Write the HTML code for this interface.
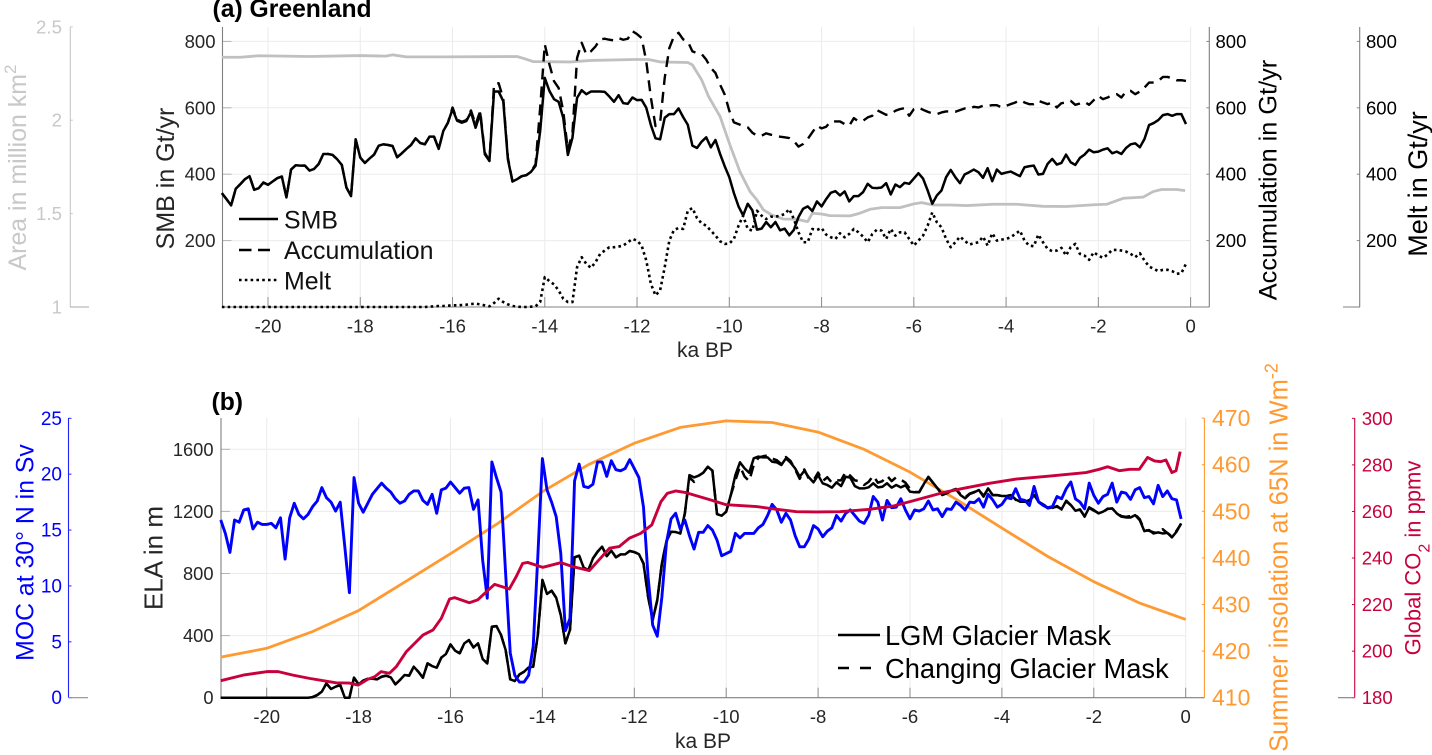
<!DOCTYPE html>
<html lang="en">
<head>
<meta charset="utf-8">
<title>Greenland SMB and ELA</title>
<style>
html,body{margin:0;padding:0;background:#fff;}
svg{display:block;font-family:"Liberation Sans",Arial,sans-serif;}
.series{fill:none;stroke-linejoin:round;stroke-linecap:butt;}
</style>
</head>
<body>
<svg id="chart" xmlns="http://www.w3.org/2000/svg" width="1432" height="755" viewBox="0 0 1432 755">
  <rect x="0" y="0" width="1432" height="755" fill="#ffffff"/>

  <g id="grid-a"></g>
  <g id="grid-b"></g>
  <g id="axes-a">
    <line x1="222.5" y1="27" x2="222.5" y2="307" stroke="#808080" stroke-width="1.1"/>
    <line x1="222" y1="307" x2="1209.5" y2="307" stroke="#808080" stroke-width="1.1"/>
    <line x1="1209.3" y1="27" x2="1209.3" y2="307" stroke="#808080" stroke-width="1.1"/>
    <line x1="1359.7" y1="27" x2="1359.7" y2="307" stroke="#808080" stroke-width="1.1"/>
    <line x1="1343" y1="307" x2="1360" y2="307" stroke="#808080" stroke-width="1.1"/>
    <line x1="70.3" y1="27" x2="70.3" y2="307" stroke="#c8c8c8" stroke-width="1.1"/>
    <line x1="70" y1="307" x2="89" y2="307" stroke="#a8a8a8" stroke-width="1.1"/>
  </g>
  <g id="axes-b">
    <line x1="221" y1="418" x2="221" y2="697.7" stroke="#808080" stroke-width="1.1"/>
    <line x1="221" y1="697.7" x2="1204.5" y2="697.7" stroke="#808080" stroke-width="1.1"/>
    <line x1="1204.4" y1="418" x2="1204.4" y2="697.7" stroke="#ff9933" stroke-width="1.1"/>
    <line x1="1354.7" y1="418" x2="1354.7" y2="697.7" stroke="#c8003c" stroke-width="1.1"/>
    <line x1="1338" y1="697.7" x2="1355" y2="697.7" stroke="#808080" stroke-width="1.1"/>
    <line x1="68.5" y1="418" x2="68.5" y2="697.7" stroke="#2222ff" stroke-width="1.1"/>
    <line x1="68.5" y1="697.7" x2="88" y2="697.7" stroke="#909090" stroke-width="1.1"/>
  </g>
  <g id="labels-a"></g>
  <g id="labels-b"></g>

  <g>
    <path id="area-line" class="series" stroke="#c0c0c0" stroke-width="2.8"/>
    <path id="accum-line" class="series" stroke="#000" stroke-width="2.4" stroke-dasharray="11 7"/>
    <path id="melt-line" class="series" stroke="#000" stroke-width="2.6" stroke-dasharray="2.6 3.2"/>
    <path id="smb-line" class="series" stroke="#000" stroke-width="2.5"/>
  </g>
  <g>
    <path id="insolation-line" class="series" stroke="#ff9a33" stroke-width="2.8"/>
    <path id="ela-changing-line" class="series" stroke="#000" stroke-width="2.5" stroke-dasharray="11 7"/>
    <path id="ela-lgm-line" class="series" stroke="#000" stroke-width="2.5"/>
    <path id="moc-line" class="series" stroke="#0000ff" stroke-width="2.9"/>
    <path id="co2-line" class="series" stroke="#c8003c" stroke-width="2.9"/>
  </g>

  <text x="212.5" y="17" font-size="24.7" font-weight="bold" fill="#000">(a) Greenland</text>
  <text x="211.5" y="410" font-size="24.7" font-weight="bold" fill="#000">(b)</text>

  <text x="705" y="357" font-size="21" fill="#262626" text-anchor="middle">ka BP</text>
  <text x="703" y="748" font-size="21" fill="#262626" text-anchor="middle">ka BP</text>

  <text transform="translate(26,167.5) rotate(-90)" font-size="24.9" fill="#c8c8c8" text-anchor="middle">Area in million km<tspan font-size="17" dy="-10">2</tspan></text>
  <text transform="translate(174,178.5) rotate(-90)" font-size="25" fill="#262626" text-anchor="middle">SMB in Gt/yr</text>
  <text transform="translate(1276.7,180) rotate(-90)" font-size="25.3" fill="#000" text-anchor="middle">Accumulation in Gt/yr</text>
  <text transform="translate(1427,184) rotate(-90)" font-size="27" fill="#000" text-anchor="middle">Melt in Gt/yr</text>
  <text transform="translate(33.3,552.5) rotate(-90)" font-size="24.8" fill="#0000ff" text-anchor="middle">MOC at 30° N in Sv</text>
  <text transform="translate(162.3,558) rotate(-90)" font-size="26" fill="#262626" text-anchor="middle">ELA in m</text>
  <text transform="translate(1287.3,557.5) rotate(-90)" font-size="25.5" fill="#ff9a33" text-anchor="middle">Summer insolation at 65N in Wm<tspan font-size="18" dy="-10">-2</tspan></text>
  <text transform="translate(1420.7,558) rotate(-90)" font-size="22" fill="#c8003c" text-anchor="middle">Global CO<tspan font-size="16" dy="9">2</tspan><tspan dy="-9"> in ppmv</tspan></text>

  <g>
    <line x1="239" y1="219" x2="278" y2="219" stroke="#000" stroke-width="2.4"/>
    <text x="284" y="228.5" font-size="24.9" fill="#111">SMB</text>
    <line x1="239" y1="250" x2="270" y2="250" stroke="#000" stroke-width="2.4" stroke-dasharray="12.5 6.5"/>
    <text x="284" y="259" font-size="24.9" fill="#111">Accumulation</text>
    <line x1="239" y1="280" x2="278" y2="280" stroke="#000" stroke-width="2.6" stroke-dasharray="2.6 3.2"/>
    <text x="284" y="289.5" font-size="24.9" fill="#111">Melt</text>
  </g>
  <g>
    <line x1="838" y1="635" x2="880" y2="635" stroke="#000" stroke-width="2.4"/>
    <text x="885" y="645" font-size="27.3" fill="#000">LGM Glacier Mask</text>
    <line x1="838" y1="668" x2="871" y2="668" stroke="#000" stroke-width="2.4" stroke-dasharray="11 11"/>
    <text x="885" y="678" font-size="27.3" fill="#000">Changing Glacier Mask</text>
  </g>
</svg>

<script>
// Tick labels
const kaTicks = [-20, -18, -16, -14, -12, -10, -8, -6, -4, -2, 0];
const gtTicks = [200, 400, 600, 800];
const areaTicks = [1, 1.5, 2, 2.5];
const elaTicks = [0, 400, 800, 1200, 1600];
const mocTicks = [0, 5, 10, 15, 20, 25];
const insolationTicks = [410, 420, 430, 440, 450, 460, 470];
const co2Ticks = [180, 200, 220, 240, 260, 280, 300];

// Series sampled every 0.1 ka starting at -21 ka
const seriesStartKa = -21;
const seriesStepKa = 0.1;

const smbValues = [343,325,306,356,370,385,394,353,358,375,368,378,388,393,330,414,427,426,426,411,416,431,461,461,458,445,428,360,334,505,450,434,447,459,486,490,488,485,451,463,476,488,508,494,490,513,513,476,530,555,596,561,555,560,587,540,583,460,440,649,649,620,445,378,385,394,397,407,425,530,690,651,626,618,570,458,510,630,653,641,649,649,649,648,634,618,638,614,612,631,623,624,600,548,508,505,570,581,581,598,572,549,486,479,498,511,481,503,461,424,391,343,303,276,311,291,233,236,256,240,256,231,236,216,232,271,296,303,289,318,303,325,344,349,336,348,318,334,334,346,371,359,358,360,373,339,369,361,374,371,387,403,387,351,311,336,351,391,413,391,373,399,406,414,406,389,418,379,414,401,405,408,401,394,421,424,426,399,401,431,446,429,434,459,436,428,449,459,474,466,468,474,478,463,468,461,479,490,493,481,506,548,554,563,578,581,576,581,581,551];

const accumulationValues = [343,325,306,356,370,385,394,353,358,375,368,378,388,393,330,414,427,426,426,411,416,431,461,461,458,445,428,360,334,505,450,434,447,459,486,490,488,485,451,463,476,488,508,494,490,513,513,476,530,555,601,564,558,563,592,550,590,465,440,671,674,628,450,378,385,394,397,407,430,600,791,731,680,660,590,473,525,750,796,761,770,785,806,808,805,803,810,805,808,831,822,810,740,631,545,555,690,780,815,826,806,800,770,765,762,745,720,705,670,640,591,556,551,545,541,525,516,516,523,519,516,513,511,509,500,483,491,506,526,546,538,543,559,559,559,551,546,569,559,561,571,576,593,586,579,581,591,596,599,576,596,601,594,588,583,581,586,589,589,588,593,598,596,603,601,606,606,608,608,601,606,611,616,623,616,611,611,621,616,611,616,601,614,616,621,609,613,618,609,623,636,626,631,638,641,631,649,651,641,649,661,676,676,681,693,693,689,683,683,681];

const meltValues = [0,0,0,0,0,0,0,0,0,0,0,0,0,0,0,0,0,0,0,0,0,0,0,0,0,0,0,0,0,0,0,0,0,0,0,0,0,0,0,0,0,0,0,0,0,1,2,3,3,4,5,5,6,7,9,10,8,5,2,12,25,15,8,3,1,0,0,1,2,15,90,78,68,50,25,15,15,120,150,130,118,135,160,170,180,180,182,185,195,205,200,185,140,70,35,50,120,200,232,238,235,290,298,268,252,245,230,215,198,190,191,205,245,275,235,230,290,275,265,272,272,275,280,295,265,225,195,195,235,232,238,218,210,205,222,210,220,235,225,212,195,220,233,230,205,235,215,225,225,205,185,200,215,245,285,255,240,205,180,195,212,200,188,192,195,212,185,222,200,203,205,210,220,230,200,185,183,218,195,175,168,170,178,155,180,190,160,155,142,165,155,148,158,172,172,170,167,160,150,162,140,122,115,108,112,112,108,100,102,130];

// Ice area (irregular samples, ka and million km2)
const areaTimes = [-21,-20.6,-20.2,-19.1,-18,-17.45,-17.3,-17,-16.2,-14.6,-14.45,-14.25,-13.45,-13,-12.05,-11.75,-11.5,-10.9,-10.8,-10.6,-10.45,-10.2,-10,-9.77,-9.55,-9.4,-9.26,-9.08,-8.83,-8.54,-8.3,-8.2,-8,-7.82,-7.38,-7.17,-6.95,-6.7,-6.3,-6,-5.83,-5.58,-5.2,-4.85,-4.28,-3.77,-3.2,-2.7,-2.04,-1.82,-1.46,-1.03,-0.81,-0.63,-0.3,-0.12];
const areaValues = [2.337,2.337,2.345,2.341,2.346,2.343,2.35,2.339,2.339,2.341,2.33,2.314,2.312,2.32,2.325,2.325,2.312,2.309,2.296,2.216,2.127,2.02,1.877,1.725,1.618,1.573,1.52,1.493,1.471,1.47,1.457,1.502,1.498,1.489,1.488,1.502,1.523,1.532,1.532,1.552,1.559,1.546,1.546,1.543,1.55,1.55,1.539,1.538,1.548,1.55,1.582,1.588,1.618,1.629,1.629,1.623];

const elaLgmValues = [0,0,0,0,0,0,0,0,0,0,0,0,0,0,0,0,0,0,0,0,4,17,39,92,56,71,82,0,0,129,86,110,122,122,118,135,142,131,86,114,146,142,200,167,129,221,204,193,258,281,343,303,286,350,371,324,350,249,221,457,461,404,307,118,107,150,167,195,200,404,758,668,689,644,532,350,436,904,915,837,822,897,940,973,912,947,904,923,923,945,938,925,865,651,500,629,865,1009,1069,1067,1058,1187,1434,1419,1430,1449,1488,1462,1183,1172,1198,1305,1434,1516,1477,1449,1542,1553,1548,1548,1520,1516,1499,1542,1514,1477,1423,1462,1419,1387,1434,1381,1370,1353,1387,1363,1423,1417,1363,1348,1348,1355,1381,1355,1359,1381,1353,1370,1355,1368,1327,1323,1323,1376,1423,1385,1348,1305,1316,1333,1342,1305,1284,1312,1323,1338,1295,1348,1305,1305,1299,1299,1305,1277,1262,1262,1273,1305,1262,1241,1220,1226,1230,1215,1269,1241,1204,1213,1166,1226,1209,1187,1198,1215,1220,1187,1166,1161,1161,1176,1144,1073,1080,1058,1065,1058,1062,1033,1069,1123];

const elaChangingValues = [0,0,0,0,0,0,0,0,0,0,0,0,0,0,0,0,0,0,0,0,4,17,39,92,56,71,82,0,0,129,86,110,122,122,118,135,142,131,86,114,146,142,200,167,129,221,204,193,258,281,343,303,286,350,371,324,350,249,221,457,461,404,307,118,107,150,167,195,200,404,758,668,689,644,532,350,436,904,915,837,822,897,940,973,912,947,904,923,923,945,938,925,865,651,500,629,865,1009,1069,1067,1058,1187,1420,1390,1430,1449,1488,1462,1183,1172,1198,1305,1400,1490,1425,1395,1500,1545,1555,1560,1540,1530,1505,1550,1525,1470,1410,1470,1410,1400,1450,1395,1420,1385,1400,1400,1455,1430,1400,1395,1370,1390,1430,1385,1395,1430,1395,1420,1405,1385,1345,1325,1325,1376,1420,1385,1350,1310,1320,1335,1345,1310,1290,1315,1325,1340,1300,1345,1305,1305,1299,1299,1305,1275,1258,1265,1270,1300,1262,1245,1225,1222,1235,1212,1265,1240,1208,1210,1170,1222,1205,1190,1195,1218,1218,1190,1170,1165,1170,1180,1150,1080,1075,1065,1060,1085,1060,1040,1075,1120];

const mocValues = [15.9,14.7,13.0,15.9,15.7,16.8,16.9,15.1,15.7,15.5,15.5,15.6,15.2,16.1,12.4,16.1,17.4,16.4,16.0,16.4,17.1,17.6,18.8,17.9,17.5,16.7,17.5,13.5,9.4,19.7,17.4,16.6,17.4,18.2,18.7,19.2,18.75,18.4,17.8,17.4,17.6,18.2,18.5,18.5,17.65,17.3,18.2,16.5,18.6,18.75,19.3,18.8,18.3,18.75,18.8,16.85,17.7,12.3,8.9,21.1,19.7,18.4,11.1,4.0,2.0,1.4,1.4,2.0,4.6,12.6,21.4,18.6,17.5,16.2,12.9,6.0,7.1,19.4,20.9,18.9,18.8,19.1,21.1,21.1,19.8,21.2,20.4,20.3,20.5,21.3,20.5,19.7,17.05,10.8,6.5,5.5,9.0,13.9,16.0,16.5,15.1,15.9,14.5,13.3,14.8,14.8,15.4,15.0,14.1,12.7,12.9,13.1,14.7,14.3,14.7,14.7,14.7,15.2,15.5,16.3,17.3,16.8,15.7,16.5,15.9,14.5,13.5,13.5,14.2,15.4,15.1,14.4,14.9,15.2,16.3,15.8,16.5,16.8,16.3,15.8,15.6,16.3,18.0,17.5,15.9,17.65,17.0,17.05,17.8,16.8,16.0,16.8,16.7,16.9,17.6,16.8,16.9,16.2,16.9,16.85,17.5,17.2,16.8,17.5,17.45,17.8,17.05,18.2,17.7,17.05,17.3,17.9,17.8,18.7,17.75,17.65,17.2,18.9,17.5,17.2,17.0,17.1,18.0,17.8,18.7,19.3,17.8,17.5,16.9,19.2,18.1,17.4,18.0,18.2,19.2,17.5,18.4,18.3,17.75,18.6,18.8,17.9,18.0,17.35,19.0,18.0,18.5,17.8,17.7,16.0];

// Summer insolation: one value per ka from -21 to 0
const insolationTimes = [-21,-20,-19,-18,-17,-16,-15,-14,-13,-12,-11,-10,-9,-8,-7,-6,-5,-4,-3,-2,-1,0];
const insolationValues = [418.7,420.6,424.2,428.7,434.8,440.9,447.2,454.2,460,464.6,468,469.4,469.05,467,463.3,458.4,452.6,446.4,440.3,434.9,430.3,426.8];

// Global CO2 (irregular samples)
const co2Times = [-21,-20.51,-20,-19.75,-19.43,-19.07,-18.49,-18.2,-18.01,-17.8,-17.65,-17.51,-17.33,-17.18,-16.96,-16.6,-16.38,-16.2,-16.02,-15.91,-15.59,-15.41,-15.22,-15.04,-14.72,-14.57,-14.43,-14.32,-13.99,-13.85,-13.6,-13.34,-12.98,-12.76,-12.54,-12.33,-12.11,-11.86,-11.62,-11.42,-11.28,-11.1,-10.88,-10.38,-10,-9.34,-9.01,-8.47,-8.04,-7.53,-6.88,-6.37,-5.93,-5.28,-4.85,-4.27,-3.69,-2.96,-2.17,-1.88,-1.7,-1.44,-1.22,-1.01,-0.83,-0.68,-0.54,-0.43,-0.3,-0.21,-0.12];
const co2Values = [187.3,189.7,191.2,191.2,189.7,188.3,186.4,186.3,185.4,187.9,189,191.2,190.5,193.3,199.8,206.9,209.1,214.1,222.4,223,220.8,222,225.5,228.7,226.7,232,237.7,238.1,236,236.7,238,236.3,234.6,239.4,244.2,244.9,248.5,250.6,254.2,264.2,267.8,268.8,268.1,265.2,262.9,262.1,261.2,259.9,259.8,259.9,260.9,262.3,264.6,268.1,269.9,272.1,273.9,275.2,276.7,278.1,279.2,277.5,278.1,278.1,283.2,281.7,281.4,282.1,276.7,277.5,285.7];

// Axis functions
const xA = t => 268 + (t + 20) * 46.13;
const yGt = v => 307 - v * 0.332;
const yArea = a => 307 - (a - 1) * 186.8;
const xB = t => 266.7 + (t + 20) * 45.95;
const yEla = e => 697.7 - e * 0.15525;
const yMoc = m => 697.7 - m * 11.176;
const yInsolation = v => 697.7 - (v - 410) * 4.66;
const yCo2 = c => 697.7 - (c - 180) * 2.328;

const svgNs = 'http://www.w3.org/2000/svg';

function addLine(parent, name, x1, y1, x2, y2, stroke) {
  const el = document.createElementNS(svgNs, 'line');
  
  
  el.setAttribute('x1', x1);
  el.setAttribute('y1', y1);
  el.setAttribute('x2', x2);
  el.setAttribute('y2', y2);
  el.setAttribute('stroke', stroke);
  el.setAttribute('stroke-width', '1');
  parent.appendChild(el);
}

function addText(parent, name, label, x, y, anchor, size, fill) {
  const el = document.createElementNS(svgNs, 'text');
  
  
  el.setAttribute('x', x);
  el.setAttribute('y', y);
  el.setAttribute('text-anchor', anchor);
  el.setAttribute('font-size', size);
  el.setAttribute('fill', fill);
  el.textContent = label;
  parent.appendChild(el);
}

function setUniformPath(id, values, xFn, yFn) {
  let d = '';
  values.forEach((v, i) => {
    const t = seriesStartKa + i * seriesStepKa;
    d += (i ? 'L' : 'M') + xFn(t).toFixed(2) + ' ' + yFn(v).toFixed(2);
  });
  document.getElementById(id).setAttribute('d', d);
}

function setTimedPath(id, times, values, xFn, yFn) {
  let d = '';
  values.forEach((v, i) => {
    d += (i ? 'L' : 'M') + xFn(times[i]).toFixed(2) + ' ' + yFn(v).toFixed(2);
  });
  document.getElementById(id).setAttribute('d', d);
}

const gridA = document.getElementById('grid-a');
const gridB = document.getElementById('grid-b');
const labelsA = document.getElementById('labels-a');
const labelsB = document.getElementById('labels-b');
const gridColor = '#ebebeb';
const tickColor = '#8c8c8c';
const darkText = '#262626';

// Panel A grid, ticks and labels
kaTicks.forEach(t => {
  const x = xA(t);
  addLine(gridA, 'panel-a-x-gridline', x, 27, x, 307, gridColor);
  addLine(gridA, 'panel-a-x-tick', x, 297, x, 307, tickColor);
  addText(labelsA, 'panel-a-x-tick-label', String(t), x, 332.5, 'middle', 18.5, darkText);
});
gtTicks.forEach(v => {
  const y = yGt(v);
  addLine(gridA, 'panel-a-y-gridline', 222.5, y, xA(0), y, gridColor);
  addLine(gridA, 'panel-a-y-tick', 222.5, y, 231.5, y, '#b4b4b4');
  addLine(gridA, 'accumulation-tick', 1206.3, y, 1209.3, y, tickColor);
  addLine(gridA, 'melt-tick', 1356.7, y, 1359.7, y, tickColor);
  addText(labelsA, 'smb-tick-label', String(v), 215.5, y + 6.5, 'end', 18.5, darkText);
  addText(labelsA, 'accumulation-tick-label', String(v), 1215.5, y + 6.5, 'start', 18.5, '#000');
  addText(labelsA, 'melt-tick-label', String(v), 1366, y + 6.5, 'start', 18.5, '#000');
});
areaTicks.forEach(a => {
  const y = yArea(a);
  addLine(gridA, 'area-tick', 70.3, y, 72.8, y, '#c8c8c8');
  addText(labelsA, 'area-tick-label', String(a), 62, y + 6.5, 'end', 18.7, '#c8c8c8');
});

// Panel B grid, ticks and labels
kaTicks.forEach(t => {
  const x = xB(t);
  addLine(gridB, 'panel-b-x-gridline', x, 418, x, 697.7, gridColor);
  addLine(gridB, 'panel-b-x-tick', x, 687.7, x, 697.7, tickColor);
  addText(labelsB, 'panel-b-x-tick-label', String(t), x, 723, 'middle', 18.5, darkText);
});
elaTicks.forEach(e => {
  const y = yEla(e);
  if (e > 0) {
    addLine(gridB, 'panel-b-y-gridline', 221, y, xB(0), y, gridColor);
    addLine(gridB, 'panel-b-y-tick', 221, y, 230, y, '#b4b4b4');
  }
  addText(labelsB, 'ela-tick-label', String(e), 213.5, y + 6.5, 'end', 18.3, darkText);
});
mocTicks.forEach(m => {
  const y = yMoc(m);
  addLine(gridB, 'moc-tick', 68.5, y, 71.5, y, '#2222ff');
  addText(labelsB, 'moc-tick-label', String(m), 62, y + 6.5, 'end', 19, '#0000ff');
});
insolationTicks.forEach(v => {
  const y = yInsolation(v);
  addLine(gridB, 'insolation-tick', 1201.8, y, 1204.4, y, '#ff9933');
  addText(labelsB, 'insolation-tick-label', String(v), 1212, y + 8, 'start', 23, '#ff9a33');
});
co2Ticks.forEach(c => {
  const y = yCo2(c);
  addLine(gridB, 'co2-tick', 1352, y, 1354.7, y, '#c8003c');
  addText(labelsB, 'co2-tick-label', String(c), 1361.7, y + 6.5, 'start', 18.6, '#c8003c');
});

// Series
setUniformPath('smb-line', smbValues, xA, yGt);
setUniformPath('accum-line', accumulationValues, xA, yGt);
setUniformPath('melt-line', meltValues, xA, yGt);
setTimedPath('area-line', areaTimes, areaValues, xA, yArea);
setUniformPath('ela-lgm-line', elaLgmValues, xB, yEla);
setUniformPath('ela-changing-line', elaChangingValues, xB, yEla);
setUniformPath('moc-line', mocValues, xB, yMoc);
setTimedPath('insolation-line', insolationTimes, insolationValues, xB, yInsolation);
setTimedPath('co2-line', co2Times, co2Values, xB, yCo2);
</script>
</body>
</html>
